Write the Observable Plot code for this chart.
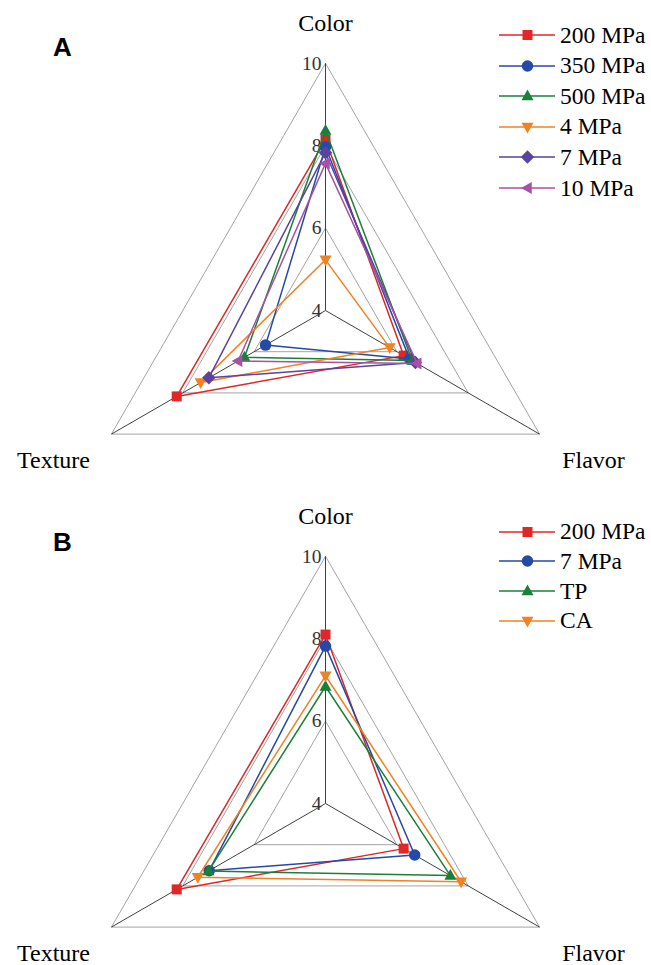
<!DOCTYPE html>
<html><head><meta charset="utf-8">
<script src="https://cdn.jsdelivr.net/npm/d3@7"></script>
<script src="https://cdn.jsdelivr.net/npm/@observablehq/plot@0.6"></script>
<style>
body{margin:0;background:#fff;}
#wrap{width:651px;}
.panel{position:relative;width:651px;overflow:hidden;}
.panel > svg{display:block;}
.letter{position:absolute;left:53px;font:bold 26px "Liberation Sans",Arial,sans-serif;line-height:1;color:#000;}
.legend{position:absolute;left:499px;top:0;font-family:"Liberation Serif","Times New Roman",serif;font-size:23.5px;color:#000;}
.row{position:absolute;left:0;height:24px;display:flex;align-items:center;white-space:nowrap;}
.row svg{display:block;margin-right:3px;}
</style></head><body><div id="wrap"></div>
<script>
// ---- data ----
const categories = ["Color", "Flavor", "Texture"];
const tickValues = [4, 6, 8, 10];
const gridLevels = [6, 8, 10];

const seriesA  = ["200 MPa", "350 MPa", "500 MPa", "4 MPa", "7 MPa", "10 MPa"];
const colorA   = [8.15, 7.97, 8.37, 5.23, 7.83, 7.57];
const flavorA  = [6.19, 6.36, 6.43, 5.80, 6.52, 6.57];
const textureA = [8.17, 5.68, 6.27, 7.50, 7.27, 6.45];

const seriesB  = ["200 MPa", "7 MPa", "TP", "CA"];
const colorB   = [8.10, 7.82, 6.84, 7.10];
const flavorB  = [6.19, 6.50, 7.50, 7.80];
const textureB = [8.17, 7.26, 7.28, 7.58];

// ---- styles ----
const palA = ["#E02626", "#2449A6", "#1A7F3A", "#F08223", "#5A42A0", "#A552A6"];
const symA = ["square", "circle", "triUp", "triDown", "diamond", "triLeft"];
const palB = ["#E02626", "#2449A6", "#1A7F3A", "#F08223"];
const symB = ["square", "circle", "triUp", "triDown"];

const PX = 41.2;      // pixels per score unit
const CX = 325, CY = 310;
const angleDeg = {Color: 90, Flavor: -30, Texture: 210};

const sym = {
  square: {draw(c, size){const s=Math.sqrt(size/Math.PI); c.rect(-s,-s,2*s,2*s);}},
  circle: {draw(c, size){const s=Math.sqrt(size/Math.PI)*1.15; c.moveTo(s,0); c.arc(0,0,s,0,2*Math.PI);}},
  triUp: {draw(c, size){const s=Math.sqrt(size/Math.PI); c.moveTo(0,-1.3*s); c.lineTo(1.2*s,0.85*s); c.lineTo(-1.2*s,0.85*s); c.closePath();}},
  triDown: {draw(c, size){const s=Math.sqrt(size/Math.PI); c.moveTo(0,1.3*s); c.lineTo(1.2*s,-0.85*s); c.lineTo(-1.2*s,-0.85*s); c.closePath();}},
  triLeft: {draw(c, size){const s=Math.sqrt(size/Math.PI); c.moveTo(-1.3*s,0); c.lineTo(0.85*s,1.2*s); c.lineTo(0.85*s,-1.2*s); c.closePath();}},
  diamond: {draw(c, size){const s=Math.sqrt(size/Math.PI)*1.35; c.moveTo(0,-s); c.lineTo(s,0); c.lineTo(0,s); c.lineTo(-s,0); c.closePath();}}
};

function pol(v, cat) {
  const a = angleDeg[cat] * Math.PI / 180, r = v - 4;
  return {x: r * Math.cos(a), y: r * Math.sin(a)};
}

function makePanel(letter, letterTop, series, cVals, fVals, tVals, pal, syms, H, legTop, legStep) {
  const div = document.createElement("div");
  div.className = "panel";
  div.style.height = H + "px";

  const grid = gridLevels.flatMap(l => [...categories, categories[0]].map(c => ({level: l, ...pol(l, c)})));
  const marks = [
    Plot.line(grid, {x: "x", y: "y", z: "level", stroke: "#a3a3a3", strokeWidth: 1}),
    Plot.link(categories, {x1: () => 0, y1: () => 0, x2: c => pol(10, c).x, y2: c => pol(10, c).y, stroke: "#404040", strokeWidth: 1}),
    Plot.text(tickValues, {x: () => 0, y: d => pol(d, "Color").y, text: d => String(d), textAnchor: "end", dx: -4, fontSize: 19.5, fill: "#333"}),
    Plot.text(categories, {
      x: c => c === "Color" ? 0 : (c === "Texture" ? -272 / PX : 268 / PX),
      y: c => c === "Color" ? (CY - 22.5) / PX : -(149.5) / PX,
      text: c => c, fontSize: 24, fill: "#000"
    })
  ];
  series.forEach((s, i) => {
    const vals = {Color: cVals[i], Flavor: fVals[i], Texture: tVals[i]};
    const pts = [...categories, categories[0]].map(c => ({series: s, cat: c, ...pol(vals[c], c)}));
    marks.push(Plot.line(pts, {x: "x", y: "y", stroke: pal[i], strokeWidth: 1.5}));
    marks.push(Plot.dot(pts.slice(0, 3), {x: "x", y: "y", r: 5, symbol: sym[syms[i]], fill: pal[i], stroke: "none"}));
  });

  const chart = Plot.plot({
    width: 651, height: H, margin: 0,
    x: {type: "linear", domain: [-CX / PX, (651 - CX) / PX], range: [0, 651], axis: null},
    y: {type: "linear", domain: [(CY - H) / PX, CY / PX], range: [H, 0], axis: null},
    style: {background: "white", fontFamily: "'Liberation Serif','Times New Roman',serif", overflow: "visible"},
    marks
  });
  div.appendChild(chart);

  const L = document.createElement("div");
  L.className = "letter";
  L.style.top = letterTop + "px";
  L.textContent = letter;
  div.appendChild(L);

  const leg = document.createElement("div");
  leg.className = "legend";
  series.forEach((s, i) => {
    const row = document.createElement("div");
    row.className = "row";
    row.style.top = (legTop + legStep * i - 12) + "px";
    const p = d3.path();
    sym[syms[i]].draw(p, 25 * Math.PI);
    row.innerHTML = `<svg width="58" height="24"><line x1="0" x2="56" y1="12" y2="12" stroke="${pal[i]}" stroke-width="1.5"/><path transform="translate(28.5,12)" d="${p.toString()}" fill="${pal[i]}"/></svg><span>${s}</span>`;
    leg.appendChild(row);
  });
  div.appendChild(leg);
  return div;
}

const wrap = document.getElementById("wrap");
wrap.appendChild(makePanel("A", 34, seriesA, colorA, flavorA, textureA, palA, symA, 493, 35, 30.6));
wrap.appendChild(makePanel("B", 36, seriesB, colorB, flavorB, textureB, palB, symB, 472, 38.7, 29.7));
</script>
</body></html>
